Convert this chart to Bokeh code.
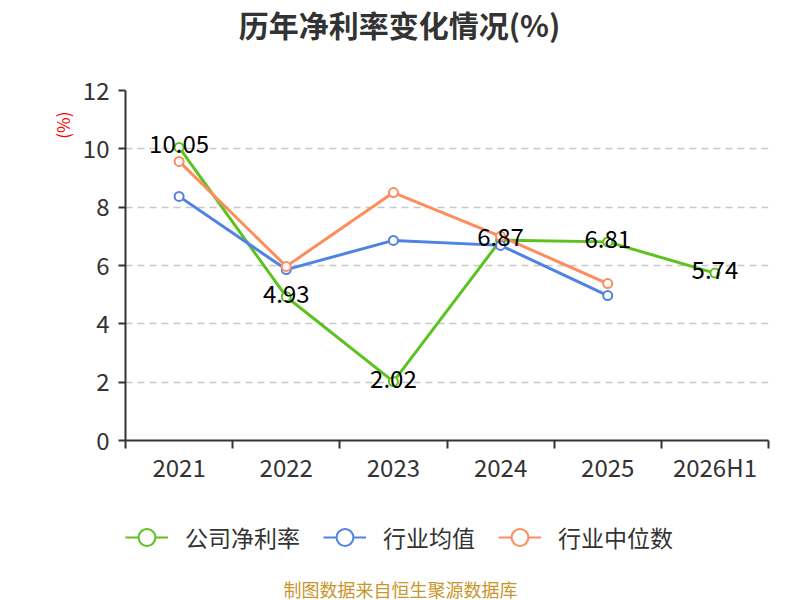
from bokeh.plotting import figure
from bokeh.layouts import column
from bokeh.models import (Range1d, FixedTicker, Legend, LegendItem, Label, Title,
                          ColumnDataSource, LabelSet)
from bokeh.core.properties import value
from bokeh.embed import file_html
from bokeh.resources import INLINE

categories = ["2021", "2022", "2023", "2024", "2025", "2026H1"]
company = [10.05, 4.93, 2.02, 6.87, 6.81, 5.74]
industry_avg = [8.37, 5.86, 6.86, 6.69, 4.97]
industry_med = [9.57, 5.97, 8.50, 7.00, 5.38]
y_ticks = [0, 2, 4, 6, 8, 10, 12]
series_names = ["公司净利率", "行业均值", "行业中位数"]

FONT = "Noto Sans CJK SC"
GREEN = "#5cc21f"
BLUE = "#4f82e4"
ORANGE = "#fd8d5c"
colors = [GREEN, BLUE, ORANGE]

xs = [i + 0.5 for i in range(len(categories))]


def strip(h):
    f = figure(width=800, height=h, output_backend="svg", toolbar_location=None,
               x_range=Range1d(125, 768), y_range=Range1d(0, h),
               x_axis_location=None, y_axis_location=None, min_border=0)
    f.outline_line_color = None
    f.xgrid.grid_line_color = None
    f.ygrid.grid_line_color = None
    return f


# title strip
t = strip(45)
t.add_layout(Label(x=399, y=22, text="历年净利率变化情况(%)", text_align="center",
                   text_baseline="middle", text_font=FONT, text_font_size="30px",
                   text_font_style="bold", text_color="#333333"))

# main chart
p = figure(width=800, height=445, output_backend="svg", toolbar_location=None,
           x_range=Range1d(0, len(categories)), y_range=Range1d(0, 12),
           min_border_left=125, min_border_right=32, min_border_top=45,
           min_border_bottom=50)
p.outline_line_color = None
p.background_fill_color = "white"

p.xaxis.ticker = FixedTicker(ticks=xs, minor_ticks=list(range(len(categories) + 1)))
p.xaxis.major_label_overrides = {x: c for x, c in zip(xs, categories)}
p.xaxis.major_tick_out = 0
p.xaxis.major_tick_in = 0
p.xaxis.minor_tick_out = 8
p.xaxis.minor_tick_in = 0
p.xaxis.minor_tick_line_color = "#333333"
p.xaxis.minor_tick_line_width = 2
p.xaxis.axis_line_color = "#333333"
p.xaxis.axis_line_width = 2
p.xaxis.major_label_text_font = FONT
p.xaxis.major_label_text_font_size = "24px"
p.xaxis.major_label_text_color = "#333333"
p.xaxis.major_label_standoff = 0

p.yaxis.ticker = FixedTicker(ticks=y_ticks)
p.yaxis.minor_tick_line_color = None
p.yaxis.major_tick_out = 7
p.yaxis.major_tick_in = 0
p.yaxis.major_tick_line_color = "#333333"
p.yaxis.major_tick_line_width = 2
p.yaxis.axis_line_color = "#333333"
p.yaxis.axis_line_width = 2
p.yaxis.major_label_text_font = FONT
p.yaxis.major_label_text_font_size = "24px"
p.yaxis.major_label_text_color = "#333333"
p.yaxis.major_label_standoff = 9

# unit "(%)" near the top of the y axis
p.add_layout(Title(text="(%)", align="right", offset=21, standoff=10, text_font=FONT,
                   text_font_size="17px", text_font_style="normal",
                   text_color="#ff0000"), "left")

p.xgrid.grid_line_color = None
p.ygrid.ticker = FixedTicker(ticks=y_ticks[1:])
p.ygrid.grid_line_color = "#c8c8c8"
p.ygrid.grid_line_dash = "7 5"
p.ygrid.grid_line_width = 1.5

for vals, color in zip([company, industry_avg, industry_med], colors):
    x = xs[:len(vals)]
    p.line(x, vals, line_color=color, line_width=3)
    p.scatter(x, vals, size=9, fill_color="white", line_color=color, line_width=2)

src = ColumnDataSource(dict(x=xs, y=company, t=[f"{v:.2f}" for v in company]))
p.add_layout(LabelSet(x="x", y="y", text="t", source=src, text_align="center",
                      text_baseline="middle", y_offset=3, text_font=value(FONT),
                      text_font_size="24px", text_color="#000000"))

# legend + footer strip
q = strip(110)
items = []
for name, color in zip(series_names, colors):
    ln = q.line([-1000, -999], [-1000, -1000], line_color=color, line_width=2)
    sc = q.scatter([-1000], [-1000], size=17, fill_color="white", line_color=color,
                   line_width=2)
    items.append(LegendItem(label=name, renderers=[ln, sc]))

legend = Legend(items=items, orientation="horizontal", location=(0, 42),
                label_text_font=FONT, label_text_font_size="23px",
                label_text_color="#333333", glyph_width=43, glyph_height=42,
                spacing=23, label_standoff=17, border_line_color=None,
                background_fill_alpha=0, margin=0, padding=0)
q.add_layout(legend)

q.add_layout(Label(x=400, y=12, text="制图数据来自恒生聚源数据库",
                   text_align="center", text_baseline="middle", text_font=FONT,
                   text_font_size="18px", text_color="#c8962a"))

layout = column(t, p, q, spacing=0)
open("out.html", "w").write(file_html(layout, INLINE))
